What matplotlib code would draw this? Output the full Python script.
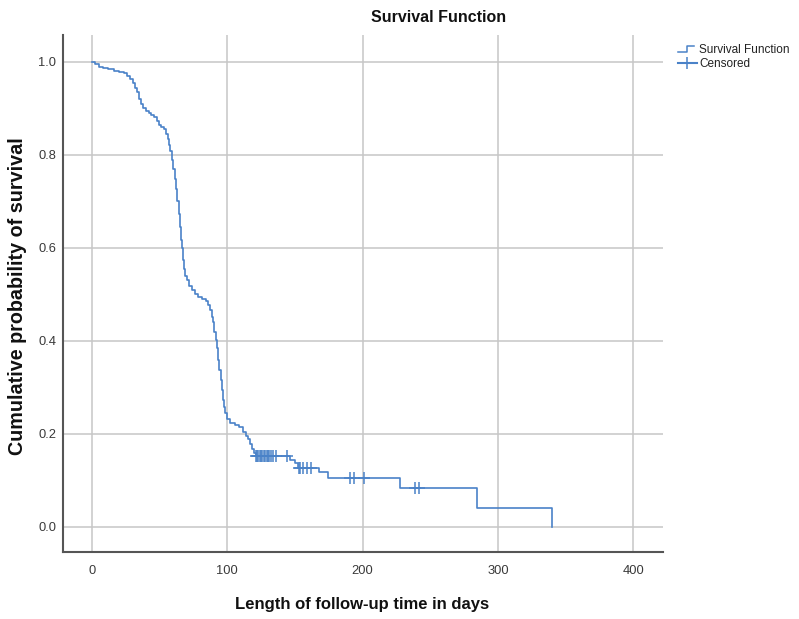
import matplotlib
matplotlib.use("Agg")
import matplotlib.pyplot as plt
from matplotlib import font_manager
from matplotlib.lines import Line2D
from matplotlib.legend_handler import HandlerBase

# Kaplan-Meier steps (time in days, survival after the step)
step_t = [0, 2, 5, 8, 12, 16, 20, 24, 26, 28, 30, 32, 33.5, 35, 36, 38, 40, 42, 44, 46,
          48, 49.5, 51, 53, 55, 56, 57, 58, 59, 60, 61, 62, 63, 64, 65, 66, 66.5, 67, 68, 69,
          70.5, 72, 74, 76, 78, 81, 84, 86, 87.5, 88.5, 89.5, 90.5, 91.5, 92.3, 93, 94, 95,
          96, 96.8, 97.5, 98.5, 100, 102, 106, 109, 111.5, 113.5, 115.5, 117, 118.5, 120,
          121, 146, 150, 152, 168, 174.5, 228, 284.5, 340]
step_s = [1.0, 0.995, 0.990, 0.987, 0.984, 0.981, 0.979, 0.976, 0.970, 0.963, 0.955, 0.945,
          0.935, 0.920, 0.910, 0.902, 0.895, 0.890, 0.886, 0.881, 0.872, 0.864, 0.860, 0.856,
          0.846, 0.835, 0.822, 0.808, 0.790, 0.770, 0.748, 0.727, 0.700, 0.672, 0.645, 0.618,
          0.600, 0.575, 0.555, 0.540, 0.530, 0.519, 0.510, 0.502, 0.495, 0.490, 0.486, 0.478,
          0.466, 0.452, 0.440, 0.420, 0.402, 0.385, 0.360, 0.338, 0.316, 0.295, 0.273, 0.258,
          0.245, 0.232, 0.224, 0.219, 0.214, 0.205, 0.196, 0.188, 0.178, 0.168, 0.159, 0.152,
          0.144, 0.137, 0.127, 0.118, 0.105, 0.083, 0.041, 0.0]

# censored cases
cens_t = [121, 122, 123, 124, 125, 126, 127, 128, 129, 130, 131, 132, 134, 136, 144,
          153, 154, 156, 159, 162, 191, 194, 201, 239, 242]
cens_s = [0.152] * 15 + [0.127] * 5 + [0.105] * 3 + [0.083] * 2

x_ticks = [0, 100, 200, 300, 400]
y_ticks = [0.0, 0.2, 0.4, 0.6, 0.8, 1.0]

blue = '#4a82c8'

# narrow font looks closest to the squeezed SPSS output
names = set(f.name for f in font_manager.fontManager.ttflist)
narrow = 'Liberation Sans Narrow' in names
if narrow:
    fam = ['Liberation Sans Narrow', 'Liberation Sans', 'DejaVu Sans']
    tick_fs, leg_fs, lab_fs, title_fs = 10.5, 10.3, 14.5, 14
else:
    fam = ['Liberation Sans', 'DejaVu Sans']
    tick_fs, leg_fs, lab_fs, title_fs = 9.3, 8.5, 12, 11.5


class StepHandler(HandlerBase):
    def create_artists(self, legend, orig_handle, xdescent, ydescent, width, height, fontsize, trans):
        x0 = -xdescent
        xm = x0 + width * 0.5
        x1 = x0 + width * 0.85
        lo = -ydescent + height * 0.15
        hi = -ydescent + height * 0.85
        ln = Line2D([x0, xm, xm, x1], [lo, lo, hi, hi], color=blue, lw=1.1, transform=trans)
        return [ln]


fig = plt.figure(figsize=(7.99, 6.19), dpi=100)
ax = fig.add_axes([63 / 799, 1 - 552 / 619, 600 / 799, 517 / 619])

ax.step(step_t, step_s, where='post', color=blue, lw=1.2, zorder=3)
ax.plot(cens_t, cens_s, ls='none', marker='+', ms=8, mew=1.1, color=blue, zorder=4)

ax.set_xlim(-21.4, 422)
ax.set_ylim(-0.054, 1.058)
ax.set_xticks(x_ticks)
ax.set_yticks(y_ticks)
ax.set_xticklabels([str(v) for v in x_ticks], family=fam, fontsize=tick_fs, color='#3a3a3a')
ax.set_yticklabels(['%.1f' % v for v in y_ticks], family=fam, fontsize=tick_fs, color='#3a3a3a')
ax.tick_params(length=0)
ax.tick_params(axis='x', pad=9)
ax.tick_params(axis='y', pad=5)
ax.grid(True, color='#c6c6c6', lw=1.1)
ax.set_axisbelow(True)
for s in ['top', 'right']:
    ax.spines[s].set_visible(False)
for s in ['left', 'bottom']:
    ax.spines[s].set_color('#555555')
    ax.spines[s].set_linewidth(1.5)

fig.text(439 / 799, 1 - 18 / 619, 'Survival Function', ha='center', va='center',
         family=fam, fontsize=title_fs, fontweight='bold', color='#111111')
fig.text(362 / 799, 1 - 605 / 619, 'Length of follow-up time in days', ha='center', va='center',
         family=fam, fontsize=lab_fs, fontweight='bold', color='#111111')
fig.text(18 / 799, 1 - 296 / 619, 'Cumulative probability of survival', ha='center', va='center',
         rotation=90, family=['Liberation Sans', 'DejaVu Sans'], fontsize=14.2,
         fontweight='bold', color='#111111')

h1 = Line2D([], [], color=blue)
h2 = Line2D([], [], color=blue, marker='+', ms=8, mew=1.1)
leg = fig.legend([h1, h2], ['Survival Function', 'Censored'], loc='upper left',
                 bbox_to_anchor=(672 / 799, 1 - 38 / 619), frameon=False, borderpad=0,
                 handlelength=1.6, handletextpad=0.2, labelspacing=0.15,
                 handler_map={h1: StepHandler()},
                 prop={'family': fam, 'size': leg_fs})
for t in leg.get_texts():
    t.set_color('#222222')

fig.savefig('out.png', dpi=100)
